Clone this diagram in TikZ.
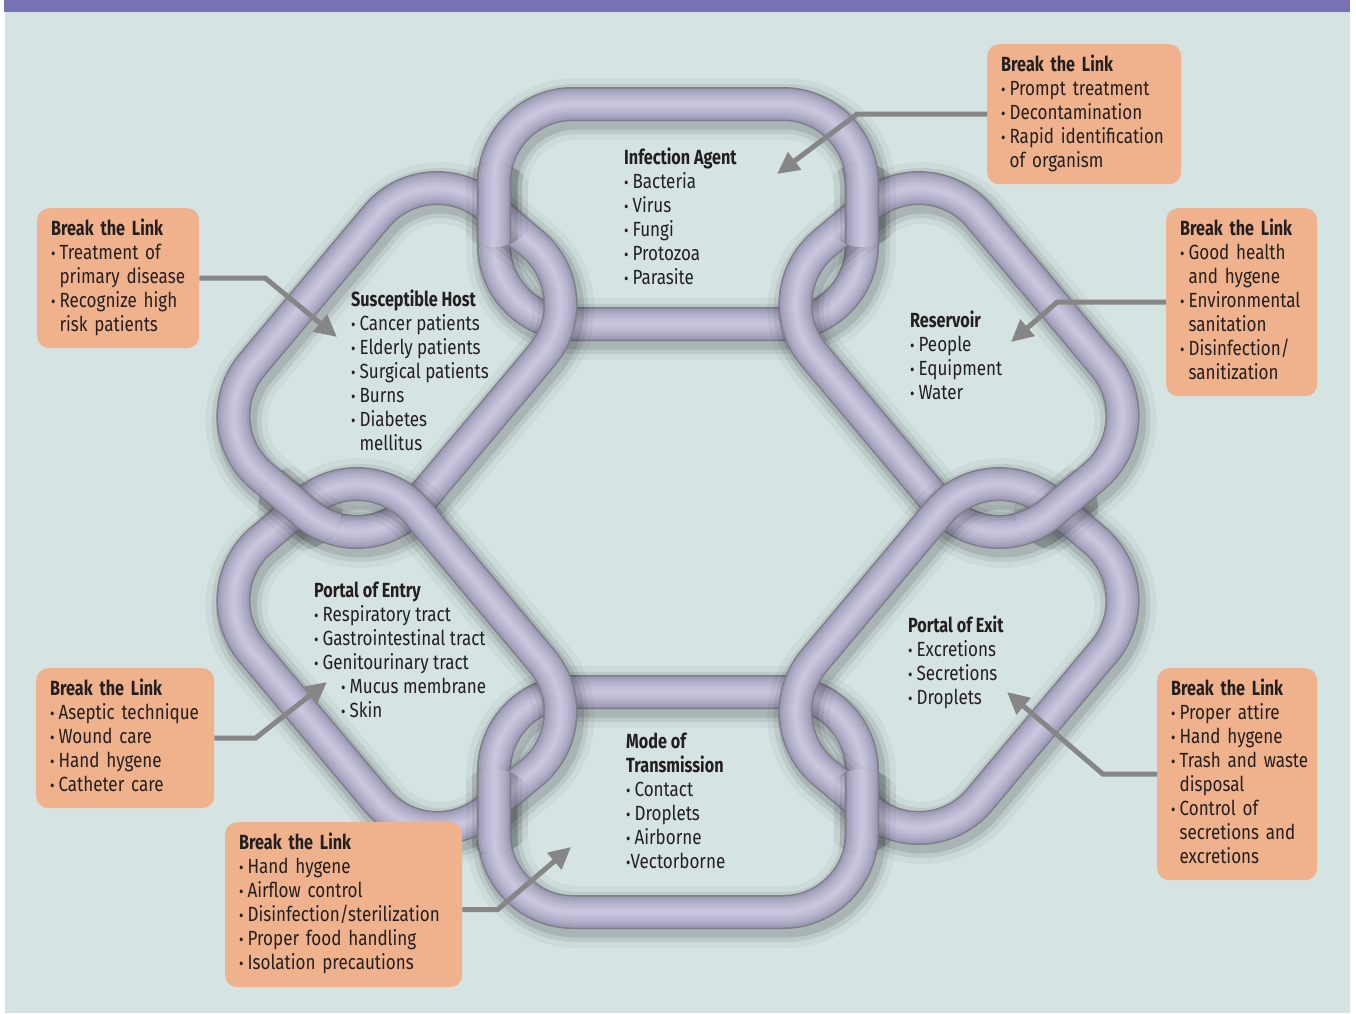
\documentclass[tikz,border=0pt]{standalone}
\usepackage{fontspec}
\setmainfont{Fira Sans}[FakeStretch=0.83,BoldFeatures={FakeStretch=0.79}]
\usetikzlibrary{arrows.meta}

\definecolor{panelbg}{HTML}{D5E3E3}
\definecolor{headbar}{HTML}{7672B4}
\definecolor{brkfill}{HTML}{EFB28C}
\definecolor{linkedge}{HTML}{7E7D88}
\definecolor{linkdark}{HTML}{9D9BB6}
\definecolor{linklite}{HTML}{C9C7DF}
\definecolor{arrowgray}{HTML}{868686}
\definecolor{txt}{HTML}{231F20}

\newcommand{\linkfont}{\fontsize{20.5}{24}\selectfont}
\newcommand{\itm}{\scalebox{.8}{•}\hspace{4pt}}
\newcommand{\rows}[1]{\begin{tabular}{@{}l@{}}#1\end{tabular}}

% one chain link: centre x, centre y, angle, half length, half height
\newcommand{\linkshade}[5]{%
  \begin{scope}[shift={(#1+3,#2+5)}, rotate=#3]
    \foreach \sw/\so in {62/.04, 50/.07, 41/.10}
      \draw[black, opacity=\so, line width=\sw pt, rounded corners=79pt]
        (-#4,-#5) rectangle (#4,#5);
  \end{scope}}
\newcommand{\linkband}[5]{%
  \begin{scope}[shift={(#1,#2)}, rotate=#3]
    \draw[linkedge, line width=34pt, rounded corners=79pt] (-#4,-#5) rectangle (#4,#5);
    \foreach \bw/\bc in {31/0, 27/20, 23/38, 19/54, 15/68, 11/80, 7/90, 3/100}
      \draw[linklite!\bc!linkdark, line width=\bw pt, rounded corners=79pt] (-#4,-#5) rectangle (#4,#5);
  \end{scope}}
\newcommand{\chainlink}[5]{\linkshade{#1}{#2}{#3}{#4}{#5}\linkband{#1}{#2}{#3}{#4}{#5}}

\begin{document}
\begin{tikzpicture}[x=1pt, y=-1pt,
    lbl/.style = {anchor=north west, inner sep=0pt, align=left, text=txt, font=\linkfont},
    brk/.style = {fill=brkfill, rounded corners=12pt, inner xsep=14pt, inner ysep=0pt,
                  align=left, anchor=north west, text=txt, font=\linkfont},
    pointer/.style = {draw=arrowgray, line width=5pt, -{Triangle[length=22pt,width=21pt]}}
    ]
    \useasboundingbox (0,0) rectangle (1356,1013);
    \fill[white] (0,0) rectangle (1356,1013);
    \fill[headbar] (4,0) rectangle (1350,12);
    \fill[panelbg] (5,12) rectangle (1350,1013);
    
    %chain links
    \chainlink{678}{214}{0}{184}{110}
    \chainlink{678}{802}{0}{184}{110}
    \chainlink{959}{360}{-50}{176}{108}
    \chainlink{397}{360}{50}{176}{108}
    \chainlink{959}{656}{50}{176}{108}
    \chainlink{397}{656}{-50}{176}{108}
    
    %outer crossings go over
    \foreach \cx/\cy/\lx/\ly/\la/\lw/\lh in {862/205/678/214/0/184/110, 494/205/678/214/0/184/110,
        862/811/678/802/0/184/110, 494/811/678/802/0/184/110,
        1056/508/959/360/-50/176/108, 300/508/397/360/50/176/108}{
      \begin{scope}
        \clip (\cx,\cy) circle (42pt);
        \chainlink{\lx}{\ly}{\la}{\lw}{\lh}
      \end{scope}}
    
    %link texts
    \node[lbl] (agent) at (624,148) {\textbf{Infection Agent}\\\itm Bacteria\\\itm Virus\\\itm Fungi\\\itm Protozoa\\\itm Parasite};
    \node[lbl] (host) at (351,290) {\textbf{Susceptible Host}\\\itm Cancer patients\\\itm Elderly patients\\\itm Surgical patients\\\itm Burns\\\itm Diabetes\\\phantom{\itm}mellitus};
    \node[lbl] (reservoir) at (910,311) {\textbf{Reservoir}\\\itm People\\\itm Equipment\\\itm Water};
    \node[lbl] (entry) at (314,582) {\textbf{Portal of Entry}\\\itm Respiratory tract\\\itm Gastrointestinal tract\\\itm Genitourinary tract\\\hspace*{27pt}\itm Mucus membrane\\\hspace*{27pt}\itm Skin};
    \node[lbl] (exitp) at (908,616) {\textbf{Portal of Exit}\\\itm Excretions\\\itm Secretions\\\itm Droplets};
    \node[lbl] (transm) at (626,733) {\textbf{Mode of}\\\textbf{Transmission}\\\itm Contact\\\itm Droplets\\\itm Airborne\\\scalebox{.8}{•}Vectorborne};
    
    %break the link boxes
    \node[brk, text width=166pt, minimum height=140pt] (brkAgent) at (987,44) {\rows{\textbf{Break the Link}\\\itm Prompt treatment\\\itm Decontamination\\\itm Rapid identification\\\phantom{\itm}of organism}};
    \node[brk, text width=123pt, minimum height=188pt] (brkRes) at (1166,208) {\rows{\textbf{Break the Link}\\\itm Good health\\\phantom{\itm}and hygene\\\itm Environmental\\\phantom{\itm}sanitation\\\itm Disinfection/\\\phantom{\itm}sanitization}};
    \node[brk, text width=134pt, minimum height=140pt] (brkHost) at (37,208) {\rows{\textbf{Break the Link}\\\itm Treatment of\\\phantom{\itm}primary disease\\\itm Recognize high\\\phantom{\itm}risk patients}};
    \node[brk, text width=150pt, minimum height=140pt] (brkEntry) at (36,668) {\rows{\textbf{Break the Link}\\\itm Aseptic technique\\\itm Wound care\\\itm Hand hygene\\\itm Catheter care}};
    \node[brk, text width=209pt, minimum height=165pt] (brkTrans) at (225,822) {\rows{\textbf{Break the Link}\\\itm Hand hygene\\\itm Airflow control\\\itm Disinfection/sterilization\\\itm Proper food handling\\\itm Isolation precautions}};
    \node[brk, text width=132pt, minimum height=212pt] (brkExit) at (1157,668) {\rows{\textbf{Break the Link}\\\itm Proper attire\\\itm Hand hygene\\\itm Trash and waste\\\phantom{\itm}disposal\\\itm Control of\\\phantom{\itm}secretions and\\\phantom{\itm}excretions}};
    
    %arrows
    \coordinate (tipAgent) at (777,174);
    \coordinate (tipRes) at (1011,342);
    \coordinate (tipHost) at (337,337);
    \coordinate (tipEntry) at (327,682);
    \coordinate (tipTrans) at (571,847);
    \coordinate (tipExit) at (1007,692);
    \draw[pointer] (brkAgent.west) -- ++(-130,0) -- (tipAgent);
    \draw[pointer] (brkRes.west) -- ++(-109,0) -- (tipRes);
    \draw[pointer] (brkHost.east) -- ++(66,0) -- (tipHost);
    \draw[pointer] (brkEntry.east) -- ++(41,0) -- (tipEntry);
    \draw[pointer] ([yshift=-5pt]brkTrans.east) -- ++(35,0) -- (tipTrans);
    \draw[pointer] (brkExit.west) -- ++(-54,0) -- (tipExit);
\end{tikzpicture}
\end{document}
